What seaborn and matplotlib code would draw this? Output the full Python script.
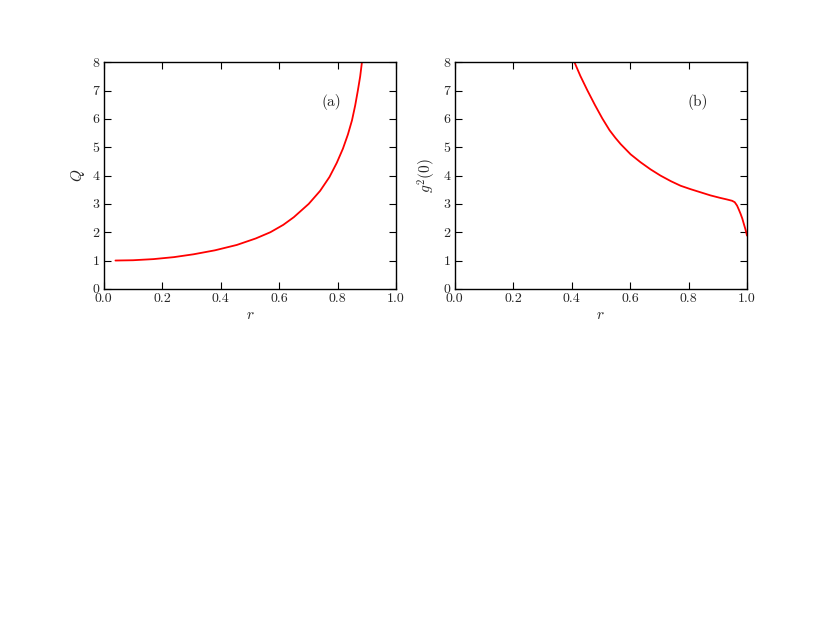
import matplotlib
matplotlib.use("Agg")
import matplotlib.pyplot as plt
import seaborn as sns
import pandas as pd

# Panel (a): Q vs r
r_a = [0.04, 0.10, 0.17, 0.24, 0.307, 0.38, 0.455, 0.52, 0.57, 0.614, 0.65,
       0.701, 0.74, 0.772, 0.797, 0.818, 0.835, 0.849, 0.860, 0.869, 0.877, 0.883]
q_a = [1.00, 1.01, 1.05, 1.12, 1.22, 1.36, 1.55, 1.78, 2.00, 2.26, 2.53,
       3.00, 3.46, 3.95, 4.45, 4.95, 5.45, 5.95, 6.48, 7.00, 7.50, 8.00]

# Panel (b): g^2(0) vs r
r_b = [0.41, 0.43, 0.454, 0.48, 0.505, 0.53, 0.55, 0.568, 0.602, 0.636, 0.67, 0.704,
       0.74, 0.773, 0.807, 0.841, 0.875, 0.909, 0.93, 0.949, 0.958, 0.966,
       0.972, 0.978, 0.984, 0.989, 0.995, 1.0]
g_b = [8.00, 7.52, 7.01, 6.49, 6.02, 5.60, 5.33, 5.11, 4.75, 4.47, 4.22, 4.00,
       3.80, 3.64, 3.52, 3.41, 3.30, 3.21, 3.16, 3.11, 3.06, 2.94,
       2.80, 2.65, 2.48, 2.30, 2.09, 1.88]

xticks = [0.0, 0.2, 0.4, 0.6, 0.8, 1.0]
yticks = [0, 1, 2, 3, 4, 5, 6, 7, 8]

sns.set_style("ticks")
plt.rcParams["font.family"] = ["cmr10", "DejaVu Serif"]
plt.rcParams["mathtext.fontset"] = "cm"
plt.rcParams["axes.formatter.use_mathtext"] = True

fig = plt.figure(figsize=(8.3, 6.23), dpi=100)
fig.subplots_adjust(left=0.125, right=0.9, top=0.9, bottom=0.1, wspace=0.2, hspace=0.2)

df_a = pd.DataFrame({"r": r_a, "Q": q_a})
df_b = pd.DataFrame({"r": r_b, "g": g_b})

panels = [
    (1, df_a, "Q", r"$Q$", "(a)", 0.78),
    (2, df_b, "g", r"$g^2(0)$", "(b)", 0.83),
]
for idx, df, ycol, ylab, tag, tx in panels:
    ax = fig.add_subplot(2, 2, idx)
    sns.lineplot(data=df, x="r", y=ycol, ax=ax, color="red", linewidth=1.3)
    ax.set_xlim(0, 1)
    ax.set_ylim(0, 8)
    ax.set_xticks(xticks)
    ax.set_yticks(yticks)
    ax.set_xticklabels([f"{t:.1f}" for t in xticks])
    ax.set_yticklabels([str(t) for t in yticks])
    ax.set_xlabel(r"$r$", fontsize=11, labelpad=2)
    ax.set_ylabel(ylab, fontsize=11, labelpad=4)
    ax.tick_params(direction="in", top=True, right=True, length=5, width=0.8,
                   labelsize=10, pad=3, color="black")
    for s in ax.spines.values():
        s.set_visible(True)
        s.set_linewidth(1.0)
        s.set_color("black")
    ax.text(tx, 0.825, tag, transform=ax.transAxes, ha="center", va="center", fontsize=11)

fig.savefig("out.png", dpi=100, facecolor="white")
